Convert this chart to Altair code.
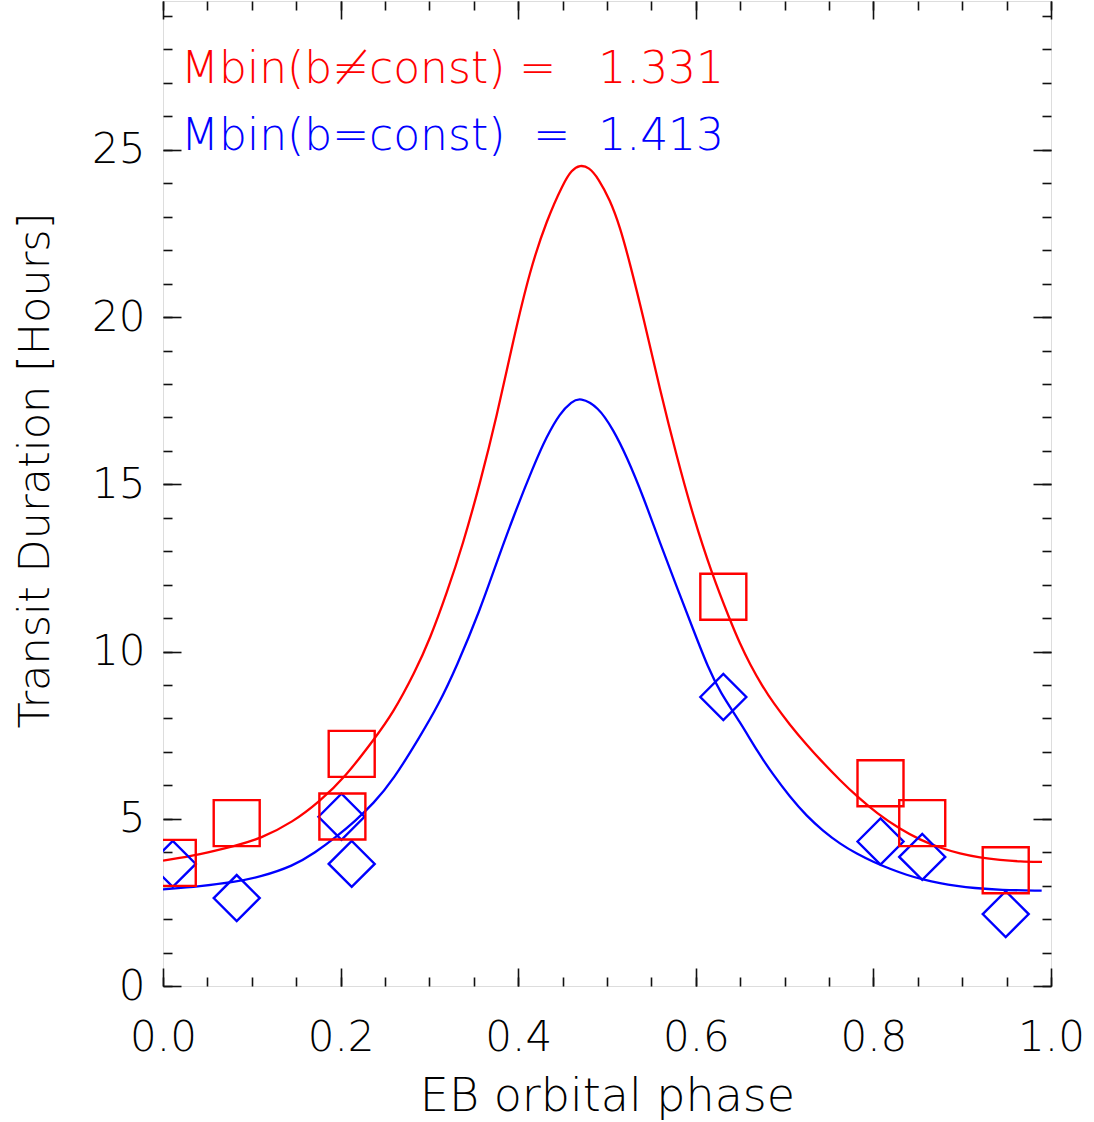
import altair as alt
import pandas as pd

# ---- data ----
red_curve_phase = [0.0, 0.0417, 0.083, 0.1092, 0.1464, 0.1768, 0.205, 0.2387, 0.259, 0.2838,
                   0.3007, 0.3195, 0.3378, 0.357, 0.3758, 0.3945, 0.4133, 0.4321, 0.4508, 0.4602,
                   0.4696, 0.4797, 0.4902, 0.5034, 0.5146, 0.5259, 0.5409, 0.5597, 0.5785, 0.5972,
                   0.6179, 0.6385, 0.6498, 0.661, 0.6748, 0.6869, 0.7061, 0.7252, 0.7399, 0.7624,
                   0.7827, 0.8041, 0.83, 0.8525, 0.875, 0.8975, 0.92, 0.9426, 0.9651, 0.9899]
red_curve_dur = [3.75, 3.93, 4.20, 4.40, 4.90, 5.53, 6.24, 7.41, 8.16, 9.39,
                 10.38, 11.74, 13.21, 15.03, 17.02, 19.32, 21.41, 22.90, 24.00, 24.40,
                 24.55, 24.48, 24.15, 23.50, 22.70, 21.60, 20.00, 17.82, 15.83, 14.03,
                 12.34, 10.94, 10.23, 9.62, 8.97, 8.48, 7.80, 7.20, 6.77, 6.15,
                 5.64, 5.16, 4.69, 4.37, 4.13, 3.96, 3.84, 3.77, 3.72, 3.71]

blue_curve_phase = [0.0, 0.0417, 0.083, 0.1092, 0.1467, 0.1712, 0.1956, 0.2162, 0.2368, 0.2593,
                    0.2894, 0.3097, 0.3307, 0.357, 0.3758, 0.3945, 0.417, 0.432, 0.4471, 0.4602,
                    0.4696, 0.4902, 0.5071, 0.5222, 0.5409, 0.5597, 0.5785, 0.5972, 0.6141, 0.6273,
                    0.6498, 0.6704, 0.6873, 0.7061, 0.7249, 0.7432, 0.7624, 0.7815, 0.7999, 0.8187,
                    0.8375, 0.8559, 0.875, 0.8941, 0.9125, 0.9426, 0.9895]
blue_curve_dur = [2.89, 2.98, 3.12, 3.26, 3.59, 3.98, 4.47, 4.93, 5.45, 6.16,
                  7.46, 8.38, 9.55, 11.24, 12.67, 14.03, 15.53, 16.43, 17.13, 17.47,
                  17.60, 17.32, 16.63, 15.83, 14.63, 13.24, 11.94, 10.65, 9.50, 8.79,
                  7.89, 6.97, 6.31, 5.65, 5.08, 4.64, 4.25, 3.95, 3.71, 3.50,
                  3.32, 3.18, 3.07, 2.99, 2.93, 2.87, 2.85]

red_sq_phase = [0.011, 0.083, 0.2125, 0.202, 0.631, 0.808, 0.855, 0.949]
red_sq_dur = [3.68, 4.87, 6.94, 5.07, 11.64, 6.06, 4.87, 3.46]

blue_dia_phase = [0.011, 0.083, 0.201, 0.2125, 0.631, 0.808, 0.855, 0.949]
blue_dia_dur = [3.65, 2.63, 5.06, 3.65, 8.64, 4.32, 3.86, 2.15]

NB = "\u00a0"
label_text = ["Mbin(b\u2260const)" + NB + "=" + NB * 3 + "1.331",
              "Mbin(b=const)" + NB * 2 + "=" + NB * 2 + "1.413"]
label_phase = [0.0203, 0.0203]
label_dur = [27.0, 25.0]
label_color = ["#ff0000", "#0000ff"]

x_major = [0.0, 0.2, 0.4, 0.6, 0.8, 1.0]
x_minor = [round(i * 0.05, 2) for i in range(21)]
y_major = [0, 5, 10, 15, 20, 25]
y_minor = list(range(0, 30))

FONT = "DejaVu Sans"
W, H = 888, 985

red_curve = pd.DataFrame({"phase": red_curve_phase, "dur": red_curve_dur})
blue_curve = pd.DataFrame({"phase": blue_curve_phase, "dur": blue_curve_dur})
red_pts = pd.DataFrame({"phase": red_sq_phase, "dur": red_sq_dur})
blue_pts = pd.DataFrame({"phase": blue_dia_phase, "dur": blue_dia_dur})
labels = pd.DataFrame({"text": label_text, "phase": label_phase, "dur": label_dur, "color": label_color})

xs = alt.Scale(domain=[0, 1], nice=False, zero=False)
ys = alt.Scale(domain=[0, 29.45], nice=False, zero=False)

common_axis = dict(grid=False, domain=False, tickColor="#111", tickWidth=1.6,
                   labelOverlap=False, labelFlush=False, labelBound=False)


def xaxis(orient, values, size, show_labels=False):
    kw = dict(common_axis)
    if show_labels:
        kw.update(labels=True, labelFont=FONT, labelFontSize=42, labelColor="black",
                  labelFontWeight=300, labelPadding=31, format=".1f",
                  title="EB orbital phase", titleFont=FONT, titleFontSize=46,
                  titleFontWeight=300, titleColor="black", titlePadding=16)
    else:
        kw.update(labels=False, title=None)
    return alt.Axis(orient=orient, values=values, tickSize=size, offset=-size, **kw)


def yaxis(orient, values, size, show_labels=False):
    kw = dict(common_axis)
    if show_labels:
        kw.update(labels=True, labelFont=FONT, labelFontSize=42, labelColor="black",
                  labelFontWeight=300, labelPadding=18, format="d",
                  title="Transit Duration [Hours]", titleFont=FONT, titleFontSize=43,
                  titleFontWeight=300, titleColor="black", titlePadding=34, titleY=469)
    else:
        kw.update(labels=False, title=None)
    return alt.Axis(orient=orient, values=values, tickSize=size, offset=-size, **kw)


red_line = alt.Chart(red_curve).mark_line(color="#ff0000", strokeWidth=2.3, clip=True,
                                          interpolate="basis").encode(
    x=alt.X("phase:Q", scale=xs, axis=xaxis("bottom", x_major, 18, True)),
    y=alt.Y("dur:Q", scale=ys, axis=yaxis("left", y_major, 18, True)),
)

blue_line = alt.Chart(blue_curve).mark_line(color="#0000ff", strokeWidth=2.3, clip=True,
                                            interpolate="basis").encode(
    x=alt.X("phase:Q", scale=xs, axis=xaxis("bottom", x_minor, 9)),
    y=alt.Y("dur:Q", scale=ys, axis=yaxis("left", y_minor, 9)),
)

red_sq = alt.Chart(red_pts).mark_point(shape="square", filled=False, color="#ff0000",
                                       strokeWidth=2.4, size=2116, clip=True, opacity=1).encode(
    x=alt.X("phase:Q", scale=xs, axis=xaxis("top", x_major, 18)),
    y=alt.Y("dur:Q", scale=ys, axis=yaxis("right", y_major, 18)),
)

blue_dia = alt.Chart(blue_pts).mark_point(shape="diamond", filled=False, color="#0000ff",
                                          strokeWidth=2.4, size=2116, clip=True, opacity=1).encode(
    x=alt.X("phase:Q", scale=xs, axis=xaxis("top", x_minor, 9)),
    y=alt.Y("dur:Q", scale=ys, axis=yaxis("right", y_minor, 9)),
)

texts = alt.Chart(labels).mark_text(font=FONT, fontSize=44, fontWeight=300, align="left",
                                    baseline="alphabetic").encode(
    x=alt.X("phase:Q", scale=xs, axis=None),
    y=alt.Y("dur:Q", scale=ys, axis=None),
    text="text:N",
    color=alt.Color("color:N", scale=None),
)

chart = alt.layer(red_line, blue_line, blue_dia, red_sq, texts).resolve_axis(
    x="independent", y="independent"
).properties(
    width=W, height=H,
    autosize=alt.AutoSizeParams(type="none"),
    padding={"left": 163, "top": 1, "right": 43, "bottom": 136},
).configure_view(stroke="#111", strokeWidth=2).configure(background="white")

chart.save("out.html", embed_options={"renderer": "svg", "actions": False})
